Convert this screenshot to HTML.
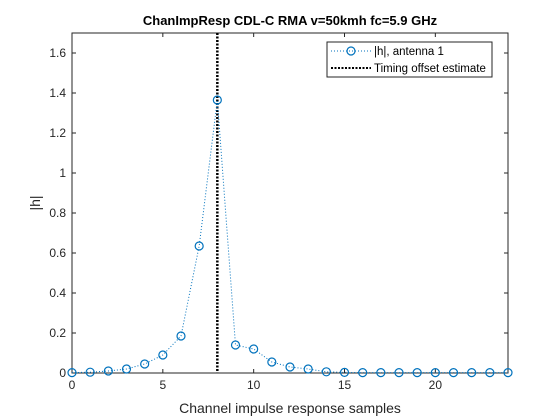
<!DOCTYPE html>
<html><head><meta charset="utf-8"><style>body{margin:0;background:#fff}svg{display:block;font-family:"Liberation Sans",sans-serif}</style></head>
<body>
<svg id="chart" width="560" height="420"></svg>
<script>
const samples=[0,1,2,3,4,5,6,7,8,9,10,11,12,13,14,15,16,17,18,19,20,21,22,23,24];
const hValues=[0.002,0.004,0.01,0.02,0.045,0.09,0.185,0.635,1.365,0.14,0.12,0.055,0.03,0.02,0.006,0.003,0.002,0.002,0.002,0.002,0.002,0.002,0.002,0.002,0.002];
const xTicks=[0,5,10,15,20];
const yTicks=[0,0.2,0.4,0.6,0.8,1,1.2,1.4,1.6];
const timingOffset=[8];
const NS="http://www.w3.org/2000/svg",svg=document.getElementById('chart');
const L=72,R=508,T=33,B=373,xMax=24,yMax=1.7;
const X=v=>L+v/xMax*(R-L),Y=v=>B-v/yMax*(B-T);
function el(t,a,p){const e=document.createElementNS(NS,t);for(const k in a)e.setAttribute(k,a[k]);(p||svg).appendChild(e);return e;}
let e=el('rect',{x:L,y:T,width:R-L,height:B-T,fill:'#fff',stroke:'#262626','stroke-width':1});


xTicks.forEach(v=>{const x=X(v);el('line',{x1:x,x2:x,y1:B,y2:B-4,stroke:'#262626'});el('line',{x1:x,x2:x,y1:T,y2:T+4,stroke:'#262626'});
const t=el('text',{x:x,y:B+16,'text-anchor':'middle','font-size':12,fill:'#262626'});t.textContent=v;

});
yTicks.forEach(v=>{const y=Y(v);el('line',{x1:L,x2:L+4,y1:y,y2:y,stroke:'#262626'});el('line',{x1:R,x2:R-4,y1:y,y2:y,stroke:'#262626'});
const t=el('text',{x:L-6,y:y+4,'text-anchor':'end','font-size':12,fill:'#262626'});t.textContent=String(v);

});
let tl=el('line',{x1:X(timingOffset[0]),x2:X(timingOffset[0]),y1:T,y2:B,stroke:'#000','stroke-width':2.5,'stroke-dasharray':'2 1.5'});


let pl=el('polyline',{points:samples.map((s,i)=>X(s)+','+Y(hValues[i])).join(' '),fill:'none',stroke:'#0072BD','stroke-width':1,'stroke-dasharray':'1 2'});


samples.forEach((s,i)=>{const c=el('circle',{cx:X(s),cy:Y(hValues[i]),r:4,fill:'none',stroke:'#0072BD','stroke-width':1.2});

});
let g=el('g',{});


el('rect',{x:327,y:42,width:165,height:35,fill:'#fff',stroke:'#262626'},g);
el('line',{x1:331,x2:371,y1:51,y2:51,stroke:'#0072BD','stroke-dasharray':'1 2'},g);
el('circle',{cx:351,cy:51,r:4,fill:'none',stroke:'#0072BD','stroke-width':1.2},g);
let t1=el('text',{x:374,y:55,'font-size':11.5,fill:'#000'},g);t1.textContent='|h|, antenna 1';
el('line',{x1:331,x2:371,y1:68,y2:68,stroke:'#000','stroke-width':2,'stroke-dasharray':'2 1.5'},g);
let t2=el('text',{x:374,y:72,'font-size':11.5,fill:'#000'},g);t2.textContent='Timing offset estimate';
let ti=el('text',{x:290,y:25,'text-anchor':'middle','font-size':13,'font-weight':'bold',fill:'#000'});ti.textContent='ChanImpResp CDL-C RMA v=50kmh fc=5.9 GHz';


let xl=el('text',{x:290,y:413,'text-anchor':'middle','font-size':14,fill:'#262626'});xl.textContent='Channel impulse response samples';


let yl=el('text',{x:0,y:0,'text-anchor':'middle','font-size':14,fill:'#262626',transform:'translate(40,203) rotate(-90)'});yl.textContent='|h|';


</script>
</body></html>
